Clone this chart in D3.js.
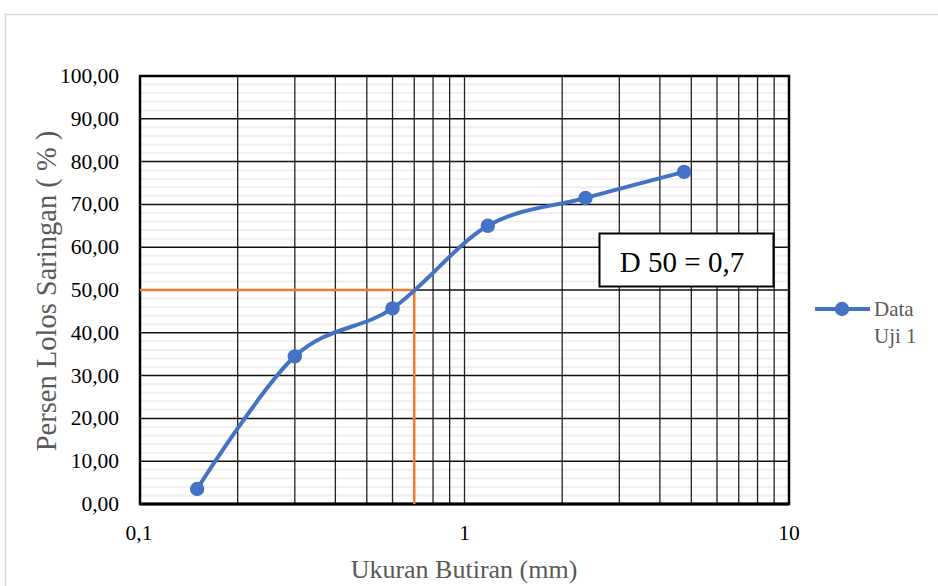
<!DOCTYPE html>
<html><head><meta charset="utf-8">
<script src="https://cdn.jsdelivr.net/npm/d3@7"></script>
<style>body{margin:0;background:#fff}svg{display:block}text{font-family:"Liberation Serif","Times New Roman",serif}</style>
</head><body><svg id="c" width="938" height="586"></svg>
<script>
const sizes = [0.15, 0.3, 0.6, 1.18, 2.36, 4.75];
const passing = [3.5, 34.5, 45.7, 65.0, 71.5, 77.6];
const yTicks = [0,10,20,30,40,50,60,70,80,90,100];
const xTickLabels = [{v:0.1,t:"0,1"},{v:1,t:"1"},{v:10,t:"10"}];
const d50 = 0.7;
const seriesName = ["Data","Uji 1"];

const svg = d3.select("#c");
const L=140, R=789, T=76, B=504;
const x = d3.scaleLog().domain([0.1,10]).range([L,R]);
const y = d3.scaleLinear().domain([0,100]).range([B,T]);

svg.append("rect").attr("x",5.5).attr("y",14.5).attr("width",940).attr("height",580)
  .attr("fill","#fff").attr("stroke","#d9d9d9").attr("stroke-width",1.5);

const g = svg.append("g");
// minor horizontal
d3.range(0,100,2).filter(v=>v%10!==0).forEach(v=>{
  g.append("line").attr("x1",L).attr("x2",R).attr("y1",y(v)).attr("y2",y(v))
   .attr("stroke","#efefef").attr("stroke-width",2);
});
// vertical grid
const vt = [];
[0.1,1].forEach(d=>{for(let k=2;k<=9;k++)vt.push(d*k);});
vt.push(1);
vt.forEach(v=>{
  g.append("line").attr("x1",x(v)).attr("x2",x(v)).attr("y1",T).attr("y2",B)
   .attr("stroke","#222").attr("stroke-width",1.3);
});
// major horizontal
yTicks.forEach(v=>{
  g.append("line").attr("x1",L).attr("x2",R).attr("y1",y(v)).attr("y2",y(v))
   .attr("stroke","#111").attr("stroke-width",1.5);
});
// border
g.append("rect").attr("x",L).attr("y",T).attr("width",R-L).attr("height",B-T)
 .attr("fill","none").attr("stroke","#000").attr("stroke-width",2.5);
g.append("line").attr("x1",L).attr("x2",R).attr("y1",B).attr("y2",B).attr("stroke","#000").attr("stroke-width",3);

// y labels
yTicks.forEach(v=>{
  svg.append("text").attr("x",119).attr("y",y(v)+7).attr("text-anchor","end")
   .attr("font-size",21.5).attr("fill","#000").text(v.toFixed(2).replace(".",","));
});
xTickLabels.forEach(d=>{
  svg.append("text").attr("x",x(d.v)+(d.v===0.1?-1:0)).attr("y",540).attr("text-anchor","middle")
   .attr("font-size",21.5).attr("fill","#000").text(d.t);
});
svg.append("text").attr("x",464).attr("y",578).attr("text-anchor","middle")
  .attr("font-size",26).attr("fill","#595959").text("Ukuran Butiran (mm)");
svg.append("text").attr("transform","translate(56,291) rotate(-90)").attr("text-anchor","middle")
  .attr("font-size",28.5).attr("fill","#595959").text("Persen Lolos Saringan ( % )");

// D50 lines
svg.append("path").attr("d",`M${L},${y(50)}H${x(d50)}V${B}`).attr("fill","none")
  .attr("stroke","#ED7D31").attr("stroke-width",2.5);

// series
const pts = sizes.map((s,i)=>[x(s),y(passing[i])]);
svg.append("path").attr("d",d3.line().curve(d3.curveCardinal.tension(0))(pts))
  .attr("fill","none").attr("stroke","#4472C4").attr("stroke-width",4);
svg.selectAll("circle.p").data(pts).enter().append("circle").attr("class","p")
  .attr("cx",d=>d[0]).attr("cy",d=>d[1]).attr("r",7.2).attr("fill","#4472C4");

// annotation box
svg.append("rect").attr("x",599.5).attr("y",233.5).attr("width",174).attr("height",53)
  .attr("fill","#fff").attr("stroke","#000").attr("stroke-width",2);
svg.append("text").attr("x",682).attr("y",272).attr("text-anchor","middle")
  .attr("font-size",29).attr("fill","#000").text("D 50 = 0,7");

// legend
svg.append("line").attr("x1",815).attr("x2",870).attr("y1",309).attr("y2",309)
  .attr("stroke","#4472C4").attr("stroke-width",4);
svg.append("circle").attr("cx",842).attr("cy",309).attr("r",7.2).attr("fill","#4472C4");
svg.append("text").attr("x",874).attr("y",316).attr("font-size",21).attr("fill","#595959").text(seriesName[0]);
svg.append("text").attr("x",874).attr("y",343).attr("font-size",21).attr("fill","#595959").text(seriesName[1]);
</script></body></html>
